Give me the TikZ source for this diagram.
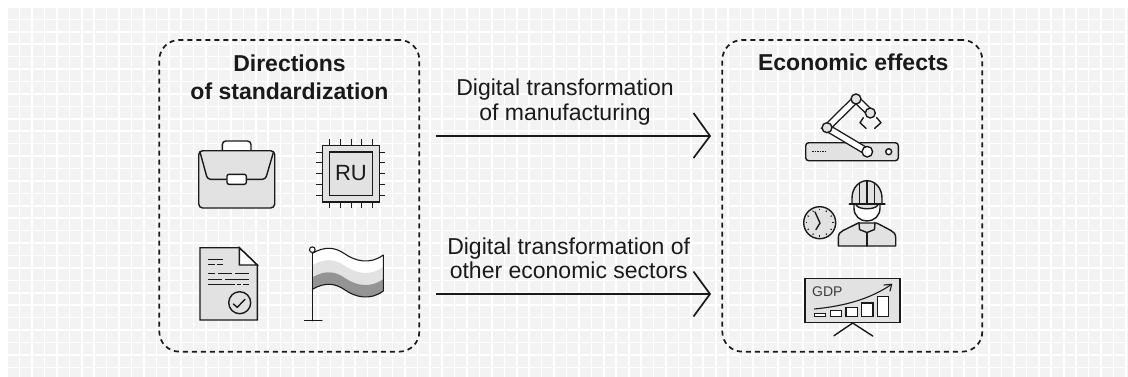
\documentclass[tikz,border=0pt]{standalone}
\usepackage{fontspec}
\usetikzlibrary{calc}
\setmainfont{Liberation Sans}
\definecolor{cellc}{HTML}{F3F3F3}
\definecolor{fillg}{HTML}{E2E2E2}
\definecolor{darkg}{HTML}{949494}
\definecolor{ink}{HTML}{1A1A1A}
\tikzset{
  panel/.style={draw=ink,line width=1.7pt,dash pattern=on 5pt off 4pt,rounded corners=20pt,fill=none},
  flow/.style={draw=ink,line width=1.7pt},
  head/.style={font=\fontsize{23}{27.7}\selectfont\bfseries,align=center,text=ink,inner sep=0pt},
  lab/.style={font=\fontsize{23}{24.3}\selectfont,align=center,text=ink,inner sep=0pt},
  ic/.style={draw=ink,line width=1.4pt,line join=round,line cap=round},
  icf/.style={ic,fill=fillg},
  icw/.style={ic,fill=white},
  thinl/.style={draw=ink,line width=1pt,line cap=butt},
}
\begin{document}
\begin{tikzpicture}[x=1pt,y=-1pt]
\useasboundingbox (0,0) rectangle (1128,376);
\fill[white] (0,0) rectangle (1128,376);
% background grid
\begin{scope}
\clip (0,0) rectangle (1128,376);
\foreach \i in {0,...,90}{\foreach \j in {0,...,29}{
  \fill[cellc] ({8+12.43*\i},{7.7+12.43*\j}) rectangle ++(10.8,10.8);
}}
\end{scope}
% panels
\node[panel,minimum width=260pt,minimum height=311.7pt,inner sep=0pt] (left) at (289.3,195.8) {};
\node[panel,minimum width=260pt,minimum height=311.7pt,inner sep=0pt] (right) at (852.3,195.8) {};
\node[head] (ttl) at (289.5,77.3) {Directions\\of standardization};
\node[head] (ttr) at (853.3,61.8) {Economic effects};
% arrows
\coordinate (a1s) at (435.7,136); \coordinate (a1e) at (710,136);
\coordinate (a2s) at (435.7,294); \coordinate (a2e) at (710,294);
\draw[flow] (a1s) -- (a1e);
\draw[flow] (a2s) -- (a2e);
\draw[flow,line join=miter] (693.5,113) -- (a1e) -- (693.5,158);
\draw[flow,line join=miter] (693.5,271.5) -- (a2e) -- (693.5,316.5);
\node[lab] (l1) at (565,102) {Digital transformation\\of manufacturing};
\node[lab] (l2) at (568.7,258.2) {Digital transformation of\\other economic sectors};
% briefcase
\draw[icw,rounded corners=3.5pt] (222.3,151) -- (222.3,141) -- (251,141) -- (251,151);
\draw[icf,rounded corners=4pt] (198.7,150.7) rectangle (274.7,208);
\draw[ic,rounded corners=3pt] (200,152) -- (207.5,179.3) -- (265.5,179.3) -- (273.5,152);
\draw[icw,rounded corners=2pt] (227,174.3) rectangle (246.3,184.3);
% chip
\foreach \k in {0,1,2,3,4}{
  \draw[thinl] ({329.3+10.85*\k},139.3) -- ++(0,6);
  \draw[thinl] ({329.3+10.85*\k},202) -- ++(0,6.3);
  \draw[thinl] (316,{152+10.85*\k}) -- ++(6.7,0);
  \draw[thinl] (379.3,{152+10.85*\k}) -- ++(6,0);
}
\draw[ic,fill=fillg,line join=miter] (322.7,145.3) rectangle (379.3,202);
\draw[ic,line join=miter] (329.3,152) rectangle (372.7,195.3);
\node[font=\fontsize{22}{24}\selectfont,text=ink,inner sep=0pt] (ru) at (351,173.5) {RU};
% document
\draw[icf,line join=miter] (200,247.7) -- (239.3,247.7) -- (257.3,265) -- (257.3,320) -- (200,320) -- cycle;
\draw[icw,line join=miter] (239.3,247.7) -- (239.3,265) -- (257.3,265) -- cycle;
\draw[thinl] (208.3,259.3) -- (222.7,259.3);
\draw[thinl] (208.3,264) -- (215,264) (216.7,264) -- (222.7,264);
\draw[thinl] (208.3,273.7) -- (215,273.7) (218.3,273.7) -- (231.7,273.7) (235,273.7) -- (249,273.7);
\draw[thinl] (208.3,279) -- (221.7,279) (225,279) -- (249,279);
\draw[thinl] (208.3,284.3) -- (235,284.3) (236.7,284.3) -- (240.7,284.3) (243.3,284.3) -- (249,284.3);
\draw[ic,fill=fillg] (239.7,302.7) circle (11);
\draw[ic] (233.3,304) -- (237.3,307.3) -- (245,299.3);
% flag
\foreach \dy/\cc in {0/white,12/fillg,24/darkg}{
  \fill[\cc] (312.3,{253.3+\dy}) .. controls (325,{246+\dy}) and (335,{247+\dy}) .. (345,{254+\dy}) .. controls (355,{261+\dy}) and (370,{265+\dy}) .. (383.3,{255+\dy}) -- (383.3,{267+\dy}) .. controls (370,{277+\dy}) and (355,{273+\dy}) .. (345,{266+\dy}) .. controls (335,{259+\dy}) and (325,{258+\dy}) .. (312.3,{265.3+\dy}) -- cycle;
}
\draw[ic,line width=1.1pt] (312.3,253.3) .. controls (325,246) and (335,247) .. (345,254) .. controls (355,261) and (370,265) .. (383.3,255) -- (383.3,291) .. controls (370,301) and (355,297) .. (345,290) .. controls (335,283) and (325,282) .. (312.3,289.3);
\draw[ic] (312.3,252.7) -- (312.3,320.7);
\draw[ic] (304.5,320.7) -- (322,320.7);
\draw[icw,line width=1.1pt] (312.3,249.7) circle (2.8);
% robot
\draw[icf,rounded corners=3pt] (805.7,142.7) rectangle (898.3,160.7);
\draw[thinl,dash pattern=on 1.5pt off 1pt] (812,151.7) -- (825,151.7);
\draw[icw] (888.7,151.7) circle (3);
\draw[ink,line width=8pt] (867.3,151.7) -- (827,127.7) -- (856,99) -- (870.3,113);
\draw[white,line width=5.2pt] (867.3,151.7) -- (827,127.7) -- (856,99) -- (870.3,113);
\draw[ic] (863.3,117.7) -- (860,122.7) -- (866,128.3);
\draw[ic] (876.7,117.7) -- (881,122.7) -- (874.7,128.3);
\draw[icw] (867.3,151.7) circle (5.3);
\draw[icf] (827,127.7) circle (5);
\draw[icf] (856,99) circle (5);
\draw[icf] (870.3,113) circle (5);
% worker and clock
\draw[icf,line join=round] (838.3,246) -- (838.3,238) .. controls (838.3,234) and (840,232) .. (843,230.5) -- (858.3,223) -- (876.7,223) -- (891,230.5) .. controls (894,232) and (895.7,234) .. (895.7,238) -- (895.7,246) -- cycle;
\draw[icw] (854,204) -- (854,208) .. controls (854,216) and (860,221) .. (867,221) .. controls (874,221) and (880,216) .. (880,208) -- (880,204) -- cycle;
\fill[fillg] (856,205) .. controls (859,210) and (875,210) .. (878,205) -- cycle;
\draw[ic] (856,205) .. controls (859,210) and (875,210) .. (878,205);
\draw[ic] (859,222.5) -- (859.5,229.5) -- (867,232.5) -- (874.5,229.5) -- (875,222.5);
\draw[ic] (867,233) -- (867,246);
\draw[icf] (852,204) -- (852,198) .. controls (852,188) and (859,180.7) .. (867,180.7) .. controls (875,180.7) and (882,188) .. (882,198) -- (882,204) -- cycle;
\draw[ic] (859.5,183) -- (859.5,204);
\draw[ic,line width=1.8pt] (867,180.7) -- (867,204);
\draw[ic] (874.5,183) -- (874.5,204);
\draw[ic] (849.3,204) -- (885,204);
\draw[icf] (819.7,222.7) circle (16);
\foreach \a in {0,30,...,330}{
  \draw[thinl] ($(819.7,222.7)+(\a:14)$) -- ($(819.7,222.7)+(\a:12.5)$);
}
\draw[ic] (815,212) -- (820,223) -- (816,229.5);
% GDP board
\draw[ic] (834,335.7) -- (852.7,323) -- (872.7,336);
\draw[icf,line join=miter] (805,278.3) rectangle (900,322.7);
\node[font=\fontsize{14}{16}\selectfont,text=ink!85,inner sep=0pt] (gdp) at (827.3,291.7) {GDP};
\draw[ic,line width=1.1pt] (814.3,309) .. controls (845,306) and (870,299) .. (891.7,284.3);
\draw[ic,line width=1.1pt] (884,285) -- (891.7,284.3) -- (890,291);
\draw[icw,line width=1.1pt,line join=miter] (814.3,313.7) rectangle (825.7,316.7);
\draw[icw,line width=1.1pt,line join=miter] (830.3,310.7) rectangle (841.7,316.7);
\draw[icw,line width=1.1pt,line join=miter] (846,307.3) rectangle (857.3,316.7);
\draw[icw,line width=1.1pt,line join=miter] (861.7,303) rectangle (873,316.7);
\draw[icw,line width=1.1pt,line join=miter] (877.7,296.7) rectangle (888.7,316.7);
\end{tikzpicture}
\end{document}
